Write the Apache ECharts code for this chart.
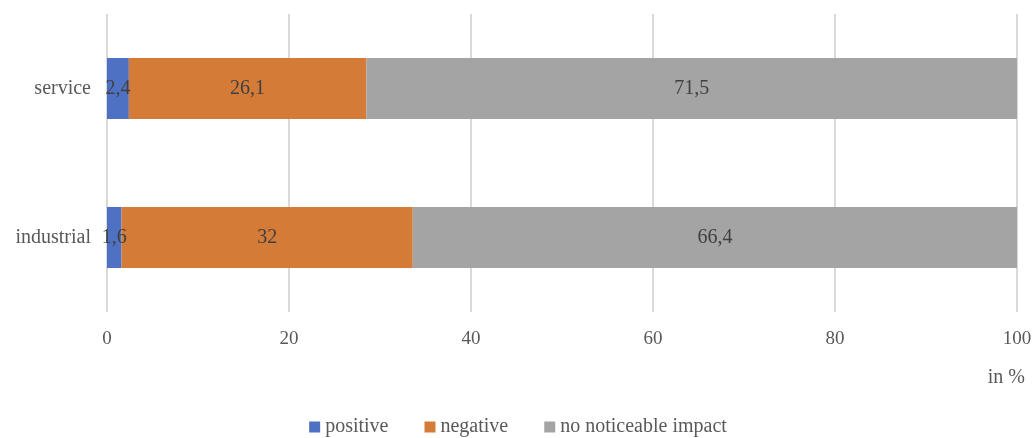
<!DOCTYPE html>
<html>
<head>
<meta charset="utf-8">
<script src="https://cdn.jsdelivr.net/npm/echarts@6/dist/echarts.min.js"></script>
<style>
  html, body { margin: 0; padding: 0; background: #fff; }
  #chart { width: 1036px; height: 438px; }
</style>
</head>
<body>
<div id="chart"></div>
<script>
// Sector categories (bottom to top)
const categories = ['industrial', 'service'];

// Share of firms by reported impact, in %
const positive = [1.6, 2.4];
const negative = [32, 26.1];
const noImpact = [66.4, 71.5];

const seriesNames = ['positive', 'negative', 'no noticeable impact'];
const colors = ['#4E71C4', '#D57B38', '#A4A4A4'];

const FONT = '"Liberation Serif", "DejaVu Serif", serif';
const TEXT = '#595959';

const fmt = v => String(v).replace('.', ',');

function barSeries(name, data, color) {
  return {
    name: name,
    type: 'bar',
    stack: 'total',
    barWidth: '41%',
    data: data,
    itemStyle: { color: color },
    label: {
      show: true,
      position: 'inside',
      color: '#404040',
      fontFamily: FONT,
      fontSize: 20,
      formatter: p => fmt(p.value)
    }
  };
}

const chart = echarts.init(document.getElementById('chart'), null, { renderer: 'canvas' });
chart.setOption({
  animation: false,
  backgroundColor: '#ffffff',
  textStyle: { fontFamily: FONT, color: TEXT },
  grid: { left: 107, right: 19, top: 14, bottom: 126, containLabel: false },
  xAxis: {
    type: 'value',
    min: 0,
    max: 100,
    interval: 20,
    axisLine: { show: false },
    axisTick: { show: false },
    splitLine: { show: true, lineStyle: { color: '#D9D9D9', width: 2 } },
    axisLabel: { color: TEXT, fontFamily: FONT, fontSize: 19, margin: 18 }
  },
  yAxis: {
    type: 'category',
    data: categories,
    axisLine: { show: false },
    axisTick: { show: false },
    axisLabel: { color: TEXT, fontFamily: FONT, fontSize: 20, margin: 16 }
  },
  legend: {
    top: 412,
    left: 'center',
    itemWidth: 11,
    itemHeight: 11,
    itemGap: 36,
    icon: 'rect',
    textStyle: { color: TEXT, fontFamily: FONT, fontSize: 20 },
    data: seriesNames
  },
  graphic: [{
    type: 'text',
    right: 11,
    top: 368,
    style: { text: 'in %', fill: TEXT, font: '20px ' + FONT }
  }],
  series: [
    barSeries(seriesNames[0], positive, colors[0]),
    barSeries(seriesNames[1], negative, colors[1]),
    barSeries(seriesNames[2], noImpact, colors[2])
  ]
});
</script>
</body>
</html>
